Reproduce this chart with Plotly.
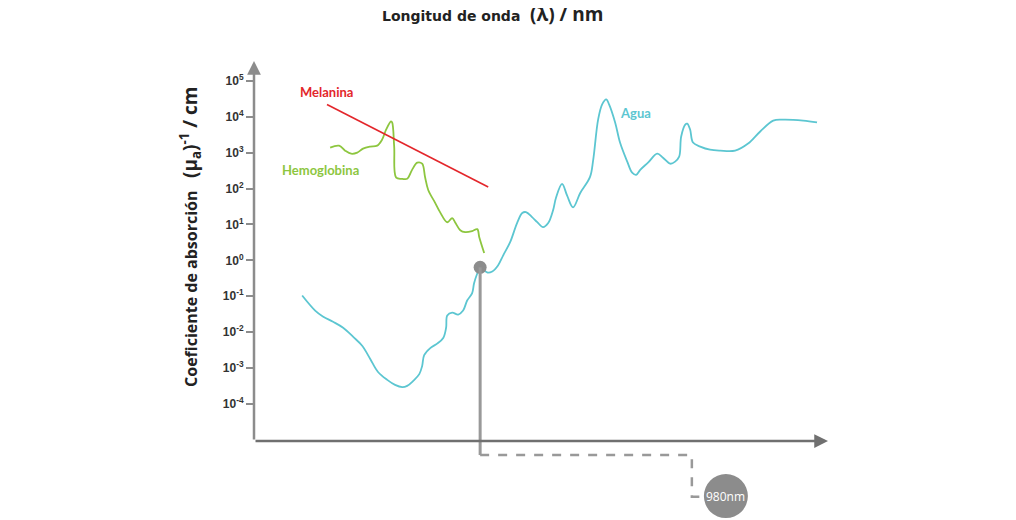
import numpy as np
import plotly.graph_objects as go

# wavelength (nm) / absorption coefficient (1/cm)
agua_nm = [363, 408, 436, 470, 505, 540, 571, 599, 626, 658, 685, 710, 727, 748,
           769, 779, 786, 807, 831, 852, 862, 866, 883, 904, 921, 935, 952, 959,
           970, 980, 1004, 1022, 1042, 1060, 1084, 1108, 1126, 1139, 1160, 1178,
           1198, 1216, 1233, 1243, 1264, 1282, 1302, 1327, 1361, 1372, 1389, 1403,
           1417, 1427, 1448, 1465, 1490, 1507, 1521, 1535, 1562, 1594, 1614, 1639,
           1656, 1670, 1677, 1691, 1698, 1708, 1718, 1743, 1777, 1812, 1864, 1909,
           1951, 1996, 2030, 2100, 2148]
agua_mu = [0.105, 0.040, 0.027, 0.0195, 0.0133, 0.0074, 0.0042, 0.0018, 0.00078,
           0.00047, 0.00034, 0.000295, 0.00032, 0.00044, 0.00068, 0.00115, 0.0023,
           0.0036, 0.0048, 0.0069, 0.0133, 0.029, 0.035, 0.031, 0.040, 0.076, 0.12,
           0.23, 0.43, 0.64, 0.46, 0.49, 0.72, 1.38, 3.2, 10.9, 20.8, 22, 16, 11.6,
           8.4, 10.9, 25, 55, 134, 62, 30, 75, 210, 630, 8300, 22000, 30400, 22000,
           6900, 1900, 560, 275, 240, 330, 525, 930, 720, 490, 560, 770, 2800, 6000,
           6400, 4370, 1900, 1470, 1200, 1130, 1130, 1780, 3870, 7800, 8300, 7800,
           6900]

hemo_nm = [460, 491, 512, 533, 554, 574, 599, 623, 640, 654, 671, 675, 682, 689,
           710, 727, 744, 762, 779, 789, 800, 824, 841, 866, 883, 893, 911, 928,
           952, 970, 977, 994]
hemo_mu = [1380, 1560, 1130, 930, 1000, 1290, 1470, 1560, 2290, 4370, 7400, 6900,
           1470, 200, 186, 186, 330, 525, 490, 210, 91, 40, 22, 11.5, 15, 11.5, 6.9,
           6.1, 6.5, 7.4, 4.4, 1.6]

mel_nm = [449, 1008]
mel_mu = [21900, 110]

marca_nm = 980
marca_mu = 0.64
marca_txt = "980nm"

ytick_exp = [5, 4, 3, 2, 1, 0, -1, -2, -3, -4]

X_RANGE = [196, 2186]
Y_RANGE = [-5.03, 5.55]

GRIS = "#8c8c8c"
C_AGUA = "#5cc6d1"
C_HEMO = "#8dc63f"
C_MEL = "#e3262b"

fig = go.Figure()
fig.add_trace(go.Scatter(x=agua_nm, y=agua_mu, mode="lines", line_shape="spline",
                         line=dict(color=C_AGUA, width=1.8), hoverinfo="skip"))
fig.add_trace(go.Scatter(x=hemo_nm, y=hemo_mu, mode="lines", line_shape="spline",
                         line=dict(color=C_HEMO, width=1.8), hoverinfo="skip"))
fig.add_trace(go.Scatter(x=mel_nm, y=mel_mu, mode="lines",
                         line=dict(color=C_MEL, width=1.6), hoverinfo="skip"))

# 980 nm marker and its drop line
y_top = (np.log10(marca_mu) - Y_RANGE[0]) / (Y_RANGE[1] - Y_RANGE[0])
fig.add_shape(type="line", xref="x", yref="paper", x0=marca_nm, x1=marca_nm,
              y0=y_top, y1=-0.037, line=dict(color="#999999", width=3))
fig.add_shape(type="path", xref="x", yref="paper",
              path=f"M {marca_nm},-0.037 H 1714 V -0.147 H 1742",
              line=dict(color="#999999", width=2.5, dash="dash"))
fig.add_trace(go.Scatter(x=[marca_nm], y=[marca_mu], mode="markers",
                         marker=dict(color=GRIS, size=13), hoverinfo="skip"))
fig.add_shape(type="circle", xref="x", yref="paper", xsizemode="pixel",
              ysizemode="pixel", xanchor=1832, yanchor=-0.145,
              x0=-22, x1=22, y0=-22, y1=22,
              fillcolor=GRIS, line=dict(width=0))

ctr = dict(xref="paper", yref="paper", showarrow=False, xanchor="center",
           yanchor="middle")
fig.add_annotation(x=1832, y=-0.145, xref="x", yref="paper", text=marca_txt,
                   showarrow=False, xanchor="center", yanchor="middle",
                   font=dict(family="Open Sans", size=12, color="white"))

# axes drawn as arrows
fig.add_annotation(x=0, y=1, xref="paper", yref="paper", ax=0, ay=380, text="",
                   showarrow=True, arrowhead=2, arrowsize=1.1, arrowwidth=2.5,
                   arrowcolor=GRIS, standoff=0)
fig.add_annotation(x=1, y=0, xref="paper", yref="paper", ax=-574, ay=0, text="",
                   showarrow=True, arrowhead=2, arrowsize=1.1, arrowwidth=2.5,
                   arrowcolor="#707070", standoff=0)

# labels
lbl = dict(family="Lato", size=13, weight="bold")
fig.add_annotation(x=0.127, y=0.918, text="Melanina", font=dict(lbl, color=C_MEL), **ctr)
fig.add_annotation(x=0.115, y=0.713, text="Hemoglobina", font=dict(lbl, color=C_HEMO), **ctr)
fig.add_annotation(x=0.665, y=0.863, text="Agua", font=dict(lbl, color=C_AGUA), **ctr)

fig.add_annotation(
    x=0.416, y=1.124,
    text="Longitud de onda  <span style='font-family:Open Sans;font-size:19px'>(λ) / nm</span>",
    font=dict(family="DejaVu Sans", size=14, color="#222222", weight="bold"), **ctr)
fig.add_annotation(
    x=-0.1115, y=0.537, textangle=-90,
    text="Coeficiente de absorción   <span style='font-size:19px'>(μ<sub>a</sub>)<sup>-1</sup> / cm</span>",
    font=dict(family="Open Sans", size=16, color="#222222", weight="bold"), **ctr)

# page body has an 8px margin, so the margins are shifted by that
fig.update_layout(
    width=1016, height=520,
    margin=dict(l=246, r=196, t=53, b=87),
    paper_bgcolor="white", plot_bgcolor="white",
    showlegend=False,
    xaxis=dict(range=X_RANGE, showgrid=False, zeroline=False, showline=False,
               showticklabels=False, ticks=""),
    yaxis=dict(type="log", range=Y_RANGE, showgrid=False, zeroline=False,
               showline=False, ticks="outside", ticklen=7, tickwidth=1.5,
               tickcolor=GRIS,
               tickvals=[10.0 ** e for e in ytick_exp],
               ticktext=[f"10<sup>{e}</sup>" for e in ytick_exp],
               tickfont=dict(family="Liberation Sans", size=12, color="#333333",
                             weight="bold")),
)

fig.write_html("out.html")
